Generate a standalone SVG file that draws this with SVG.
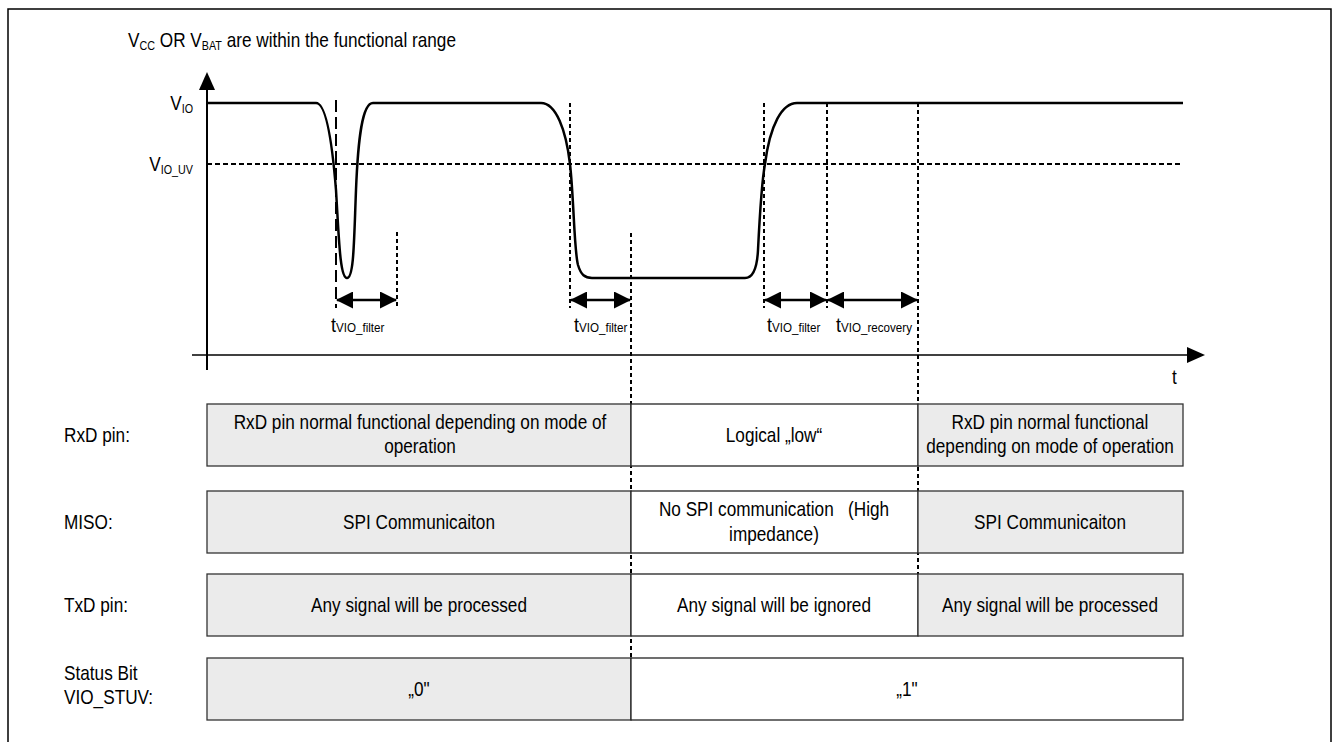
<svg xmlns="http://www.w3.org/2000/svg" width="1333" height="742" viewBox="0 0 1333 742">
<style>
text{font-family:"Liberation Sans",Arial,sans-serif;fill:#000;font-size:20px}
.c{text-anchor:middle}
.e{text-anchor:end}
.sub{font-size:12.5px}
.ts{font-size:13.5px}
.g{fill:#ebebeb;stroke:#333;stroke-width:1.3}
.w{fill:#fff;stroke:#222;stroke-width:1.3}
.dot{stroke:#000;stroke-width:2;stroke-dasharray:4 3;fill:none}
.wave{stroke:#000;stroke-width:2.5;fill:none}
.arr{stroke:#000;stroke-width:2.5;marker-start:url(#ah);marker-end:url(#ah)}
</style>
<defs>
<marker id="ah" viewBox="0 0 17 17" refX="16" refY="8.5" markerWidth="17" markerHeight="17" markerUnits="userSpaceOnUse" orient="auto-start-reverse">
<path d="M0,0 L17,8.5 L0,17 z" fill="#000"/>
</marker>
</defs>
<rect width="1333" height="742" fill="#fff"/>
<path d="M8,742 V9 H1331 V742" fill="none" stroke="#000" stroke-width="1.5"/>

<g id="title"><text transform="translate(128,47) scale(0.86,1)">V<tspan class="sub" dy="3">CC</tspan><tspan dy="-3"> OR V</tspan><tspan class="sub" dy="3">BAT</tspan><tspan dy="-3"> are within the functional range</tspan></text></g>

<g id="axes">
<line x1="207" y1="370" x2="207" y2="88" stroke="#000" stroke-width="2"/>
<polygon points="207,72 199,90 215,90" fill="#000"/>
<line x1="192" y1="355" x2="1190" y2="355" stroke="#000" stroke-width="1.6"/>
<polygon points="1205,355 1187,347 1187,363" fill="#000"/>
<text transform="translate(1172,384) scale(0.86,1)">t</text>
<text class="e" transform="translate(193,110) scale(0.86,1)">V<tspan class="sub" dy="3">IO</tspan></text>
<text class="e" transform="translate(193,171) scale(0.86,1)">V<tspan class="sub" dy="3">IO_UV</tspan></text>
</g>

<g id="levels">
<line x1="207" y1="164" x2="1183" y2="164" stroke="#000" stroke-width="2" stroke-dasharray="5 3"/>
</g>

<g id="waveform">
<path class="wave" d="M207,103 L316,103 C326,103 332,140 336,190 C339,240 340,278 347,278 C354,278 354,240 356,190 C358,140 362,103 373,103 L541,103 C556,103 566,130 570,164 C574,200 574,250 578,265 C581,275 585,278 592,278 L745,278 C752,278 757,270 758,250 C760,210 762,180 765,164 C770,125 782,103 797,103 L1183,103"/>
</g>

<g id="markers">
<line x1="336" y1="100" x2="336" y2="308" stroke="#000" stroke-width="2" stroke-dasharray="12 5"/>
<line class="dot" x1="397" y1="232" x2="397" y2="308"/>
<line class="dot" x1="570" y1="103" x2="570" y2="308"/>
<line class="dot" x1="631" y1="233" x2="631" y2="658"/>
<line class="dot" x1="764" y1="103" x2="764" y2="308"/>
<line class="dot" x1="827" y1="103" x2="827" y2="308"/>
<line class="dot" x1="918" y1="103" x2="918" y2="574"/>
</g>

<g id="connectors">
<line class="arr" x1="337" y1="300" x2="396" y2="300"/>
<line class="arr" x1="571" y1="300" x2="630" y2="300"/>
<line class="arr" x1="765" y1="300" x2="826" y2="300"/>
<line class="arr" x1="828" y1="300" x2="917" y2="300"/>
</g>

<g id="timing-labels">
<text transform="translate(331,332) scale(0.86,1)" style="font-size:21px">t<tspan class="ts">VIO_filter</tspan></text>
<text transform="translate(574,332) scale(0.86,1)" style="font-size:21px">t<tspan class="ts">VIO_filter</tspan></text>
<text transform="translate(767,332) scale(0.86,1)" style="font-size:21px">t<tspan class="ts">VIO_filter</tspan></text>
<text transform="translate(836,332) scale(0.86,1)" style="font-size:21px">t<tspan class="ts">VIO_recovery</tspan></text>
</g>

<g id="row-labels">
<text transform="translate(64,442) scale(0.86,1)">RxD pin:</text>
<text transform="translate(64,529) scale(0.86,1)">MISO:</text>
<text transform="translate(64,612) scale(0.86,1)">TxD pin:</text>
<text transform="translate(64,680) scale(0.86,1)">Status Bit</text>
<text transform="translate(64,704) scale(0.86,1)">VIO_STUV:</text>
</g>

<g id="rxd-1"><rect class="g" x="207" y="404" width="424" height="62"/>
<text class="c" transform="translate(420,429) scale(0.86,1)">RxD pin normal functional depending on mode of</text>
<text class="c" transform="translate(420,453) scale(0.86,1)">operation</text></g>
<g id="rxd-2"><rect class="w" x="631" y="404" width="287" height="62"/>
<text class="c" transform="translate(774,442) scale(0.86,1)">Logical „low“</text></g>
<g id="rxd-3"><rect class="g" x="918" y="404" width="265" height="62"/>
<text class="c" transform="translate(1050,429) scale(0.86,1)">RxD pin normal functional</text>
<text class="c" transform="translate(1050,453) scale(0.86,1)">depending on mode of operation</text></g>

<g id="miso-1"><rect class="g" x="207" y="491" width="424" height="62"/>
<text class="c" transform="translate(419,529) scale(0.86,1)">SPI Communicaiton</text></g>
<g id="miso-2"><rect class="w" x="631" y="491" width="287" height="62"/>
<text class="c" transform="translate(774,516) scale(0.86,1)" xml:space="preserve">No SPI communication   (High</text>
<text class="c" transform="translate(774,541) scale(0.86,1)">impedance)</text></g>
<g id="miso-3"><rect class="g" x="918" y="491" width="265" height="62"/>
<text class="c" transform="translate(1050,529) scale(0.86,1)">SPI Communicaiton</text></g>

<g id="txd-1"><rect class="g" x="207" y="574" width="424" height="62"/>
<text class="c" transform="translate(419,612) scale(0.86,1)">Any signal will be processed</text></g>
<g id="txd-2"><rect class="w" x="631" y="574" width="287" height="62"/>
<text class="c" transform="translate(774,612) scale(0.86,1)">Any signal will be ignored</text></g>
<g id="txd-3"><rect class="g" x="918" y="574" width="265" height="62"/>
<text class="c" transform="translate(1050,612) scale(0.86,1)">Any signal will be processed</text></g>

<g id="stat-1"><rect class="g" x="207" y="658" width="424" height="62"/>
<text class="c" transform="translate(419,696) scale(0.86,1)">„0"</text></g>
<g id="stat-2"><rect class="w" x="631" y="658" width="552" height="62"/>
<text class="c" transform="translate(907,696) scale(0.86,1)">„1"</text></g>
</svg>
